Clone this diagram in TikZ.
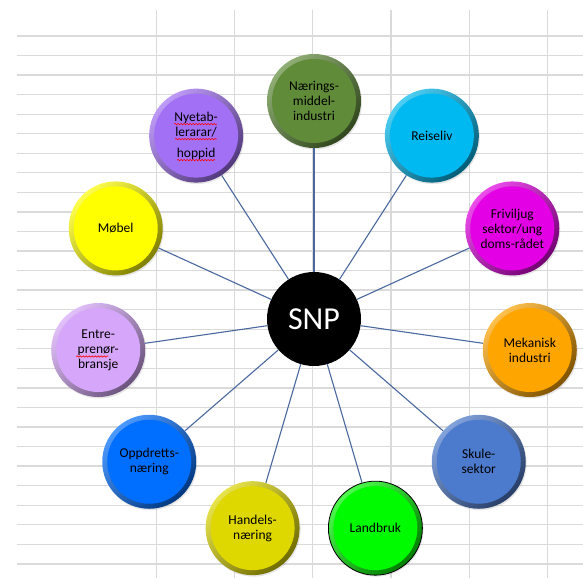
\documentclass[tikz,border=0pt]{standalone}
\usepackage{fontspec}
\setmainfont{Carlito}
\usetikzlibrary{shadows,decorations.pathmorphing}
\definecolor{linkblue}{RGB}{74,104,158}
\definecolor{gridgray}{RGB}{218,218,218}
\definecolor{naering}{RGB}{96,140,58}
\definecolor{reise}{RGB}{0,185,240}
\definecolor{frivil}{RGB}{228,0,228}
\definecolor{mek}{RGB}{255,165,0}
\definecolor{skule}{RGB}{76,122,205}
\definecolor{landbruk}{RGB}{0,250,0}
\definecolor{handel}{RGB}{222,216,0}
\definecolor{oppdrett}{RGB}{0,110,255}
\definecolor{entre}{RGB}{214,166,250}
\definecolor{mobel}{RGB}{255,255,0}
\definecolor{nyetab}{RGB}{162,112,245}

\begin{document}
\begin{tikzpicture}[x=1pt, y=1pt,
  main/.style={circle, minimum size=94pt, inner sep=0pt, align=center,
    font=\fontsize{13.5}{15}\selectfont,
    top color=#1!70!white, bottom color=#1!50!black, shading angle=45,
    path picture={\fill[#1] (path picture bounding box.center) circle (42pt);},
    drop shadow={opacity=0.2, shadow xshift=1pt, shadow yshift=-1.5pt}},
  hub/.style={circle, minimum size=94pt, inner sep=0pt, fill=black, text=white,
    font=\fontsize{32}{36}\selectfont},
  link/.style={draw=linkblue, line width=1.1pt},
  spell/.style={draw=red, line width=0.6pt, decorate,
    decoration={snake, amplitude=0.7pt, segment length=3pt}},
  gridline/.style={draw=gridgray, line width=1.3pt}]
\useasboundingbox (-314,-259) rectangle (269,319);
\begin{scope}[shift={(-314,-259)}]
\draw[gridline, xstep=78.2pt, ystep=1000pt] (150,0.5) grid (583,568);
\draw[gridline, xstep=1000pt, ystep=19.55pt, yshift=14.15pt] (17,-5) grid (583,530);
\end{scope}
\node[hub] (snp) at (0,0) {SNP};
\node[main=naering] (naer) at (90:218) {Nærings-\\middel-\\industri};
\node[main=reise] (reise) at (57.27:218) {Reiseliv};
\node[main=frivil] (frivil) at (24.55:218) {Friviljug\\sektor/ung\\doms-rådet};
\node[main=mek] (mek) at (-8.18:218) {Mekanisk\\industri};
\node[main=skule] (skule) at (-40.91:218) {Skule-\\sektor};
\node[main=landbruk, draw=black, line width=0.8pt] (land) at (-73.64:218) {Landbruk};
\node[main=handel] (handel) at (-106.36:218) {Handels-\\næring};
\node[main=oppdrett] (oppdr) at (-139.09:218) {Oppdretts-\\næring};
\node[main=entre] (entre) at (-171.82:218) {Entre-\\prenør-\\bransje};
\node[main=mobel] (mobel) at (155.45:218) {Møbel};
\node[main=nyetab] (nyetab) at (122.73:218) {Nyetab-\\lerarar/\\[6pt]hoppid};
\draw[link] (snp) -- (naer);
\draw[link] (snp) -- (reise);
\draw[link] (snp) -- (frivil);
\draw[link] (snp) -- (mek);
\draw[link] (snp) -- (skule);
\draw[link] (snp) -- (land);
\draw[link] (snp) -- (handel);
\draw[link] (snp) -- (oppdr);
\draw[link] (snp) -- (entre);
\draw[link] (snp) -- (mobel);
\draw[link] (snp) -- (nyetab);
\draw[spell] ([shift={(-22,11.5)}]nyetab.center) -- ++(43,0);
\draw[spell] ([shift={(-21,-3.5)}]nyetab.center) -- ++(42,0);
\draw[spell] ([shift={(-19,-24.5)}]nyetab.center) -- ++(38,0);
\draw[spell] ([shift={(-22,-6.5)}]entre.center) -- ++(32,0);
\end{tikzpicture}
\end{document}
